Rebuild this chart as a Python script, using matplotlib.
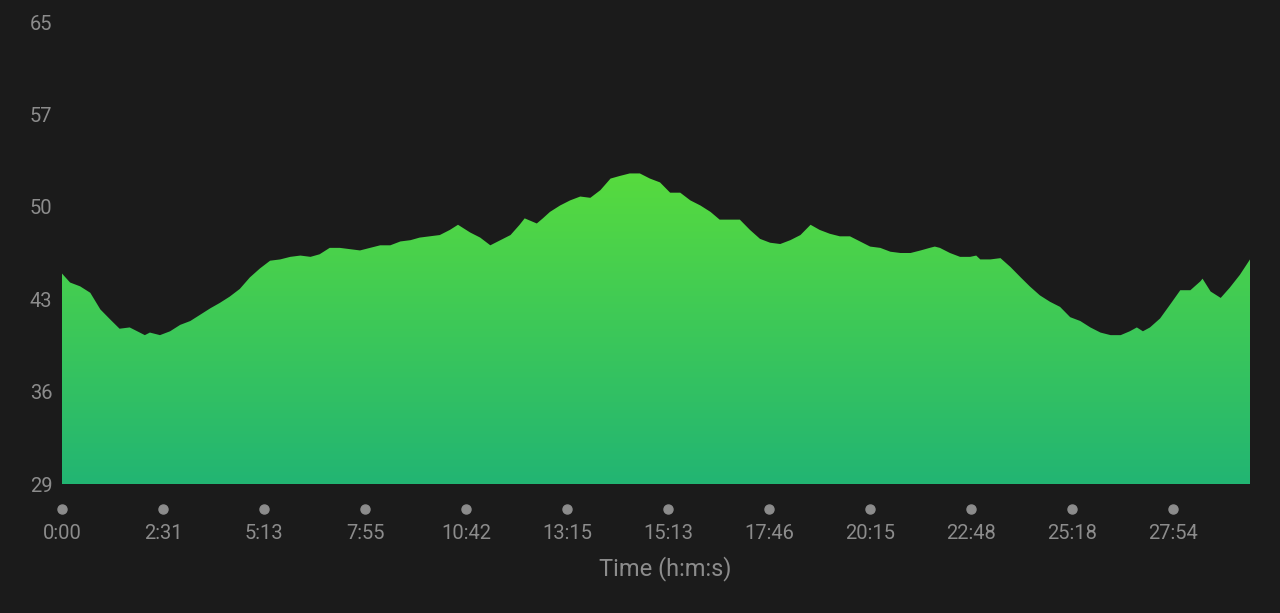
import numpy as np
import matplotlib
matplotlib.use("Agg")
import matplotlib.pyplot as plt
from matplotlib.colors import LinearSegmentedColormap

plt.rcParams['font.family'] = ['Roboto', 'DejaVu Sans']

# distance along the route, in tick units (one unit between neighbouring time labels)
dist = [0.00, 0.08, 0.18, 0.28, 0.38, 0.48, 0.57, 0.67, 0.77, 0.82, 0.87, 0.97,
        1.07, 1.17, 1.27, 1.37, 1.47, 1.56, 1.66, 1.76, 1.86, 1.96, 2.06, 2.16,
        2.26, 2.36, 2.46, 2.55, 2.65, 2.75, 2.85, 2.95, 3.05, 3.15, 3.25, 3.35,
        3.45, 3.54, 3.64, 3.74, 3.84, 3.92, 4.04, 4.14, 4.24, 4.34, 4.44, 4.53,
        4.58, 4.70, 4.76, 4.83, 4.93, 5.03, 5.13, 5.23, 5.33, 5.43, 5.52, 5.62,
        5.72, 5.82, 5.92, 6.02, 6.12, 6.22, 6.32, 6.42, 6.51, 6.61, 6.71, 6.81,
        6.91, 7.01, 7.11, 7.21, 7.31, 7.41, 7.50, 7.60, 7.70, 7.80, 7.90, 8.00,
        8.10, 8.20, 8.30, 8.40, 8.50, 8.59, 8.64, 8.69, 8.79, 8.89, 8.99, 9.05,
        9.09, 9.19, 9.29, 9.39, 9.49, 9.58, 9.68, 9.78, 9.88, 9.98, 10.08, 10.18,
        10.28, 10.38, 10.48, 10.57, 10.64, 10.70, 10.77, 10.87, 10.98, 11.07,
        11.17, 11.27, 11.29, 11.37, 11.47, 11.56, 11.66, 11.76]

values = [45.4, 44.7, 44.4, 43.9, 42.6, 41.8, 41.1, 41.2, 40.8, 40.6, 40.8, 40.6,
          40.9, 41.4, 41.7, 42.2, 42.7, 43.1, 43.6, 44.2, 45.1, 45.8, 46.4, 46.5,
          46.7, 46.8, 46.7, 46.9, 47.4, 47.4, 47.3, 47.2, 47.4, 47.6, 47.6, 47.9,
          48.0, 48.2, 48.3, 48.4, 48.8, 49.2, 48.6, 48.2, 47.6, 48.0, 48.4, 49.2,
          49.7, 49.3, 49.7, 50.2, 50.7, 51.1, 51.4, 51.3, 51.9, 52.8, 53.0, 53.2,
          53.2, 52.8, 52.5, 51.7, 51.7, 51.1, 50.7, 50.2, 49.6, 49.6, 49.6, 48.8,
          48.1, 47.8, 47.7, 48.0, 48.4, 49.2, 48.8, 48.5, 48.3, 48.3, 47.9, 47.5,
          47.4, 47.1, 47.0, 47.0, 47.2, 47.4, 47.5, 47.4, 47.0, 46.7, 46.7, 46.8,
          46.5, 46.5, 46.6, 45.9, 45.1, 44.4, 43.7, 43.2, 42.8, 42.0, 41.7, 41.2,
          40.8, 40.6, 40.6, 40.9, 41.2, 40.9, 41.2, 41.9, 43.1, 44.1,
          44.1, 44.8, 45.0, 44.0, 43.5, 44.3, 45.3, 46.5]

time_labels = ["0:00", "2:31", "5:13", "7:55", "10:42", "13:15", "15:13",
               "17:46", "20:15", "22:48", "25:18", "27:54"]

y_min, y_max = 29, 65
bg = "#1b1b1b"
txt = "#8c8c8c"

fig = plt.figure(figsize=(12.8, 6.13), dpi=100, facecolor=bg)
ax = fig.add_axes([62/1280, (613-484)/613, (1250-62)/1280, (484-22)/613])
ax.set_facecolor(bg)

x = np.array(dist)
y = np.array(values)

# gradient fill clipped to the area under the curve
poly = ax.fill_between(x, y, y_min, color="none", lw=0)
cmap = LinearSegmentedColormap.from_list("g", ["#22b573", "#57db3e"])
grad = np.linspace(0, 1, 256).reshape(-1, 1)
top = y.max()
im = ax.imshow(grad, cmap=cmap, aspect="auto", origin="lower",
               extent=[x[0], x[-1], y_min, top], zorder=1)
im.set_clip_path(poly.get_paths()[0], transform=ax.transData)
ax.set_xlim(0, x[-1])
ax.set_ylim(y_min, y_max)

for s in ax.spines.values():
    s.set_visible(False)

yt = np.linspace(y_min, y_max, 6)
ax.set_yticks(yt)
ax.set_yticklabels([str(int(np.floor(v))) for v in yt])
ax.tick_params(axis="y", length=0, pad=7, labelsize=14.5, labelcolor=txt)

xt = np.arange(len(time_labels))
ax.set_xticks(xt)
ax.set_xticklabels(time_labels)
ax.tick_params(axis="x", length=0, pad=29, labelsize=14.5, labelcolor=txt)

ax.plot(xt, np.full(len(xt), -25/462), "o", ms=6.5, color=txt,
        transform=ax.get_xaxis_transform(), clip_on=False)

fig.text(665/1280, 1 - 569/613, "Time (h:m:s)", color=txt, fontsize=17,
         ha="center", va="center")

fig.savefig("out.png", dpi=100, facecolor=bg)
